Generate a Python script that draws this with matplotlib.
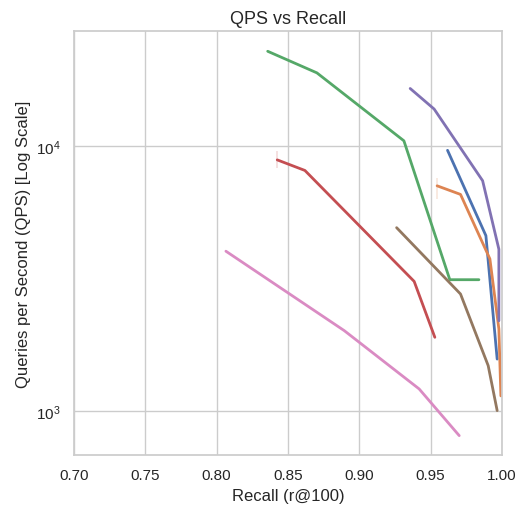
import numpy as np
import matplotlib.pyplot as plt
import seaborn as sns

sns.set_theme(style="whitegrid")
plt.rcParams['font.family'] = ['Liberation Sans', 'DejaVu Sans']

palette = sns.color_palette("deep")

# recall / qps per index
blue_x = [0.9619, 0.9888, 0.9967]
blue_y = [9640, 4590, 1570]
orange_x = [0.9546, 0.9710, 0.9916, 0.9979, 0.9993]
orange_y = [7080, 6570, 3750, 2040, 1140]
green_x = [0.8358, 0.8703, 0.9313, 0.9635, 0.9839]
green_y = [22800, 18900, 10470, 3130, 3130]
red_x = [0.8425, 0.8619, 0.9385, 0.9530]
red_y = [8870, 8090, 3084, 1897]
purple_x = [0.9357, 0.9525, 0.9865, 0.9979, 0.9979]
purple_y = [16500, 13800, 7400, 4080, 2190]
brown_x = [0.9262, 0.9710, 0.9904, 0.9967]
brown_y = [4920, 2764, 1483, 1003]
pink_x = [0.8065, 0.8895, 0.9420, 0.9701]
pink_y = [4010, 2010, 1211, 807]

# faint spread at first point of two series
err_x = [0.8425, 0.9546]
err_lo = [8300, 6300]
err_hi = [9600, 7600]

fig = plt.figure(figsize=(5.19, 5.10), dpi=100)
ax = fig.add_axes([0.1426, 0.1059, 0.8244, 0.8314])

series = [(blue_x, blue_y), (orange_x, orange_y), (green_x, green_y),
          (red_x, red_y), (purple_x, purple_y), (brown_x, brown_y),
          (pink_x, pink_y)]
for i, (xs, ys) in enumerate(series):
    ax.plot(xs, ys, color=palette[i], lw=2)

ax.vlines(err_x[0], err_lo[0], err_hi[0], color=palette[3], alpha=0.2, lw=1.2)
ax.vlines(err_x[1], err_lo[1], err_hi[1], color=palette[1], alpha=0.2, lw=1.2)

ax.set_yscale('log')
ax.set_xlim(0.70, 1.00)
ax.set_ylim(682, 27200)
ax.set_xticks(np.arange(0.70, 1.001, 0.05))
ax.set_xticklabels(['0.70', '0.75', '0.80', '0.85', '0.90', '0.95', '1.00'])
ax.minorticks_off()
ax.set_yticks([1000, 10000])
ax.tick_params(labelsize=11, colors='.15')

ax.set_title("QPS vs Recall", fontsize=13, color='.15')
ax.set_xlabel("Recall (r@100)", fontsize=12, color='.15')
ax.set_ylabel("Queries per Second (QPS) [Log Scale]", fontsize=12, color='.15')

fig.savefig("out.png", dpi=100)
